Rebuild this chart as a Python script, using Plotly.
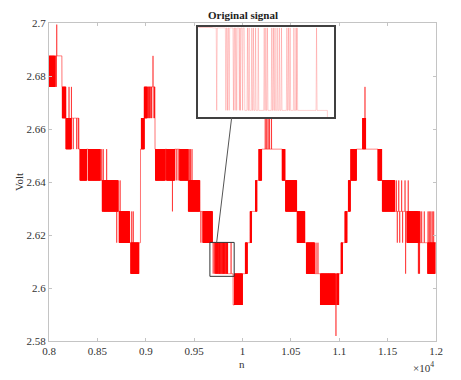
import numpy as np
import plotly.graph_objects as go

# ---------------- data ----------------
# quantised voltage levels (V), index 0..10
levels = [2.5819, 2.5936, 2.6054, 2.6171, 2.6289, 2.6406, 2.6524, 2.6641, 2.6759, 2.6876, 2.6994]
n_first, n_last = 8000, 12000

# held level (index into levels) starting at sample hold_n[i]
hold_n = [8000, 8134, 8190, 8310, 8530, 8715, 8835, 8946, 8955, 8985, 9096, 9480, 9560, 9690,
          9750, 9903, 10000, 10050, 10095, 10150, 10198, 10440, 10560, 10645, 10745, 11035,
          11080, 11115, 11178, 11440, 11575, 11835]
hold_q = [9, 8, 7, 6, 5, 4, 3, 6, 7, 8, 6, 5, 4, 3,
          2, 1, 2, 3, 4, 5, 6, 5, 4, 3, 2, 3,
          4, 5, 6, 5, 4, 3]

# blocks of rapid toggling between two adjacent levels
dense_start = [8000, 8137, 8175, 8320, 8405, 8550, 8725, 8845, 8955, 8985, 9100, 9215, 9350, 9440,
               9590, 9916, 10030, 10080, 10135, 10170, 10410, 10445, 10565, 10660, 10805, 10975,
               11020, 11060, 11095, 11120, 11242, 11400, 11445, 11700, 11914]
dense_end = [8060, 8175, 8234, 8390, 8530, 8715, 8835, 8930, 8985, 9015, 9200, 9300, 9440, 9560,
             9690, 10000, 10050, 10095, 10150, 10198, 10440, 10560, 10645, 10745, 10960, 10995,
             11035, 11080, 11115, 11178, 11273, 11440, 11575, 11835, 11990]
dense_lo = [8, 7, 6, 5, 5, 4, 3, 2, 6, 7, 5, 5, 5, 4,
            3, 1, 2, 3, 4, 5, 5, 4, 3, 2, 1, 1,
            2, 3, 4, 5, 6, 5, 4, 3, 2]
dense_hi = [9, 8, 7, 6, 6, 5, 4, 3, 7, 8, 6, 6, 6, 5,
            4, 2, 3, 4, 5, 6, 6, 5, 4, 3, 2, 2,
            3, 4, 5, 6, 7, 6, 5, 4, 3]

# isolated one-sample excursions: sample, level index
pulse_n = [8068, 8076, 8080, 8207, 8232, 8251, 8286, 8303, 8545, 8561, 8596, 8700, 8735, 8855, 8871,
           9022, 9030, 9038, 9045, 9055, 9062, 9075, 9085, 9090, 9207, 9276, 9315, 9335, 9450, 9462,
           9478, 9570,
           9697, 9714, 9717, 9720, 9728, 9731, 9734, 9739, 9741, 9745, 9749,
           9754, 9757, 9762, 9765, 9769, 9774, 9785, 9788, 9791, 9799, 9802, 9805, 9809, 9813,
           9817, 9827, 9830, 9833, 9840, 9844, 9846, 9882,
           10235, 10250, 10265, 10280, 10300, 10760, 10780, 10966, 11266,
           11590, 11615, 11645, 11680, 11713, 11600, 11625, 11655, 11686, 11818, 11824, 11830,
           11852, 11879, 11918, 11931, 11946, 11961, 11976]
pulse_q = [8, 8, 10, 8, 8, 6, 6, 6, 6, 6, 6, 3, 5, 4, 4,
           7, 7, 7, 7, 7, 7, 9, 7, 7, 5, 4, 5, 5, 6, 6,
           6, 3,
           2, 2, 2, 2, 2, 2, 2, 2, 2, 2, 2,
           3, 3, 3, 3, 3, 3, 3, 3, 3, 3, 3, 3, 3, 3,
           3, 3, 3, 3, 3, 3, 3, 3,
           7, 7, 7, 7, 7, 3, 3, 0, 8,
           5, 5, 5, 5, 5, 3, 3, 3, 2, 2, 2, 2,
           4, 4, 4, 4, 4, 4, 4]

x_tick_vals = [8000, 8500, 9000, 9500, 10000, 10500, 11000, 11500, 12000]
x_tick_text = ["0.8", "0.85", "0.9", "0.95", "1", "1.05", "1.1", "1.15", "1.2"]
y_tick_vals = [2.58, 2.6, 2.62, 2.64, 2.66, 2.68, 2.7]
y_tick_text = ["2.58", "2.6", "2.62", "2.64", "2.66", "2.68", "2.7"]

zoom_x = [9663, 9914]
zoom_y = [2.6044, 2.6172]
connector_start_n = 9733

# ---------------- build the sampled signal ----------------
n = np.arange(n_first, n_last + 1)
q = np.zeros(n.size, dtype=int)
for i, s in enumerate(hold_n):
    e = hold_n[i + 1] if i + 1 < len(hold_n) else n_last + 1
    q[(n >= s) & (n < e)] = hold_q[i]
for s, e, lo, hi in zip(dense_start, dense_end, dense_lo, dense_hi):
    idx = (n >= s) & (n < e)
    q[idx] = np.where((n[idx] - s) % 2 == 0, hi, lo)
for p, lv in zip(pulse_n, pulse_q):
    q[p - n_first] = lv
volt = np.array(levels)[q]

FONT = "Liberation Serif, Times New Roman, serif"
AXC = "#c4c4c4"
TXT = "#333333"

fig = go.Figure()
fig.add_trace(go.Scatter(x=n, y=volt, mode="lines", xaxis="x", yaxis="y",
                         line=dict(color="#ff0000", width=0.55, simplify=False),
                         hoverinfo="skip", showlegend=False))
sel = (n >= zoom_x[0] - 2) & (n <= zoom_x[1] + 2)
fig.add_trace(go.Scatter(x=n[sel], y=volt[sel], mode="lines", xaxis="x2", yaxis="y2",
                         line=dict(color="rgba(255,0,0,0.24)", width=0.8, simplify=False),
                         hoverinfo="skip", showlegend=False))

ins_x = [0.386, 0.736]
ins_y = [0.703, 0.987]

fig.update_layout(
    width=461, height=380,
    margin=dict(l=49, r=25, t=23, b=39),
    paper_bgcolor="white", plot_bgcolor="white",
    font=dict(family=FONT, size=11, color=TXT),
    xaxis=dict(range=[n_first, n_last], tickvals=x_tick_vals, ticktext=x_tick_text,
               showgrid=False, zeroline=False, showline=True, mirror="ticks",
               linecolor=AXC, linewidth=1, ticks="inside", ticklen=3, tickcolor=AXC,
               tickfont=dict(family=FONT, size=11, color=TXT)),
    yaxis=dict(range=[2.58, 2.7], tickvals=y_tick_vals, ticktext=y_tick_text,
               showgrid=False, zeroline=False, showline=True, mirror="ticks",
               linecolor=AXC, linewidth=1, ticks="inside", ticklen=3, tickcolor=AXC,
               tickfont=dict(family=FONT, size=11, color=TXT)),
    xaxis2=dict(domain=ins_x, anchor="y2", range=zoom_x, showticklabels=False, ticks="",
                showgrid=False, zeroline=False, showline=True, mirror=True,
                linecolor="#404040", linewidth=1.5),
    yaxis2=dict(domain=ins_y, anchor="x2", range=zoom_y, showticklabels=False, ticks="",
                showgrid=False, zeroline=False, showline=True, mirror=True,
                linecolor="#404040", linewidth=1.5),
    shapes=[
        dict(type="rect", xref="x", yref="y", x0=zoom_x[0], x1=zoom_x[1],
             y0=zoom_y[0], y1=zoom_y[1], line=dict(color="#333333", width=1)),
        dict(type="line", xref="paper", yref="paper",
             x0=(connector_start_n - n_first) / (n_last - n_first),
             y0=(zoom_y[1] - 2.58) / 0.12, x1=0.472, y1=ins_y[0],
             line=dict(color="#555555", width=1)),
    ],
    annotations=[
        dict(text="<b>Original signal</b>", xref="paper", yref="paper", x=0.5, y=1.025,
             showarrow=False, xanchor="center", yanchor="middle",
             font=dict(family=FONT, size=11, color="#222222")),
        dict(text="n", xref="paper", yref="paper", x=0.4987, y=-0.072,
             showarrow=False, xanchor="center", yanchor="middle",
             font=dict(family=FONT, size=11, color=TXT)),
        dict(text="Volt", xref="paper", yref="paper", x=-0.0775, y=0.5, textangle=-90,
             showarrow=False, xanchor="center", yanchor="middle",
             font=dict(family=FONT, size=11, color=TXT)),
        dict(text="×10<sup>4</sup>", xref="paper", yref="paper", x=1.0, y=-0.083,
             showarrow=False, xanchor="right", yanchor="middle",
             font=dict(family=FONT, size=11, color=TXT)),
    ],
)

fig.write_html("out.html")
